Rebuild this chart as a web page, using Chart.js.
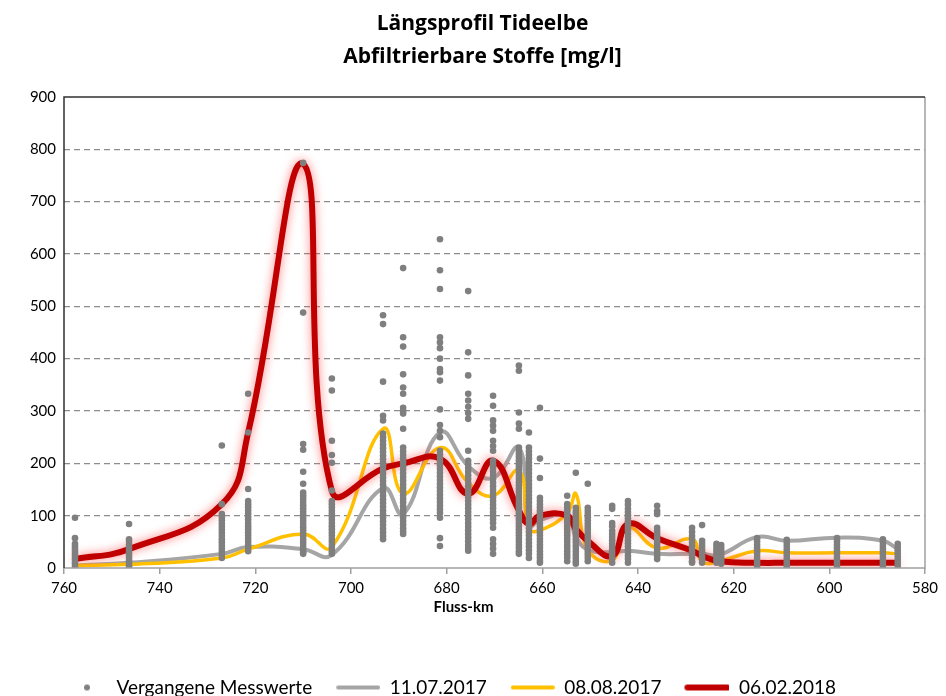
<!DOCTYPE html>
<html>
<head>
<meta charset="utf-8">
<script src="https://cdn.jsdelivr.net/npm/chart.js@4.4.1/dist/chart.umd.min.js"></script>
<style>
  html, body { margin: 0; padding: 0; background: #fff; }
  #wrap { width: 946px; height: 696px; }
</style>
</head>
<body>
<div id="wrap"><canvas id="profileChart" width="946" height="696"></canvas></div>
<script>
// Stations along the river (Fluss-km)
const stationKm = [757.7, 746.4, 727.0, 721.5, 710.0, 704.0, 693.3, 689.1, 681.4, 675.5, 670.3, 664.9, 662.8, 660.5,
  654.8, 653.0, 650.5, 645.4, 642.1, 636.0, 628.7, 626.6, 623.0, 615.1, 608.9, 598.4, 588.8, 585.7];

// Profile values [mg/l] per station
const values20170711 = [5, 10, 27, 40, 36, 25, 153, 103, 259, 195, 172, 230, 80, 92,
  100, 60, 35, 30, 33, 27, 27, 27, 25, 59, 52, 58, 52, 36];
const values20170808 = [5, 7, 19, 36, 65, 40, 266, 142, 230, 163, 138, 186, 75, 72,
  105, 142, 35, 15, 77, 38, 55, 12, 13, 33, 29, 29, 29, 27];
const values20180206 = [17, 36, 122, 259, 772, 147, 190, 200, 209, 142, 205, 110, 84, 100,
  100, 75, 52, 23, 84, 57, 33, 23, 13, 10, 10, 10, 10, 10];

// Past measurements (Vergangene Messwerte), one list per station
const pastKm = [757.7, 746.4, 727.0, 721.5, 710.0, 704.0, 693.3, 689.1, 681.4, 675.5, 670.3, 664.9, 662.8, 660.5,
  654.8, 653.0, 650.5, 645.4, 642.1, 636.0, 628.7, 626.6, 623.6, 622.6, 615.1, 608.9, 598.4, 588.8, 585.7];
const pastValues = [
  [96, 57, 46, 41, 36, 31, 26, 21, 16, 11, 6, 2],
  [84, 55, 50, 45, 40, 35, 30, 25, 20, 15, 10, 5, 2],
  [234, 122, 103, 97, 91, 85, 79, 73, 67, 61, 55, 49, 43, 37, 31, 25, 19],
  [333, 259, 151, 128, 122, 116, 110, 104, 98, 92, 86, 80, 74, 68, 62, 56, 50, 44, 38, 32],
  [774, 488, 237, 226, 184, 161, 144, 138, 132, 126, 120, 114, 108, 102, 96, 90, 84, 78, 72, 66, 60, 54, 48, 42, 36, 30, 27],
  [362, 339, 243, 216, 201, 148, 128, 122, 116, 110, 104, 98, 92, 86, 80, 74, 68, 62, 56, 50, 44, 38, 32, 27],
  [483, 466, 356, 291, 282, 257, 250, 243, 236, 229, 222, 215, 208, 201, 194, 187, 180, 173, 166, 159, 152, 145, 138, 131, 124, 117, 110, 103, 96, 89, 82, 75, 68, 61, 55],
  [573, 441, 423, 370, 345, 333, 306, 300, 295, 266, 230, 223, 216, 209, 202, 195, 188, 181, 174, 167, 160, 153, 146, 139, 132, 125, 118, 111, 104, 97, 90, 83, 76, 70, 65],
  [628, 569, 533, 441, 431, 420, 400, 380, 374, 358, 303, 273, 262, 250, 224, 217, 210, 203, 196, 189, 182, 175, 168, 161, 154, 147, 140, 133, 126, 119, 112, 105, 96, 57, 42],
  [529, 412, 368, 333, 320, 308, 296, 285, 224, 205, 198, 191, 184, 177, 170, 163, 156, 149, 142, 135, 128, 121, 114, 107, 100, 93, 86, 79, 72, 65, 58, 51, 44, 38, 33],
  [329, 310, 282, 272, 262, 243, 233, 224, 205, 198, 191, 184, 177, 170, 163, 156, 149, 142, 135, 128, 121, 114, 107, 100, 93, 86, 77, 55, 46, 37, 27],
  [387, 377, 297, 276, 266, 230, 224, 218, 212, 206, 200, 194, 188, 182, 176, 170, 164, 158, 152, 146, 140, 134, 128, 122, 116, 110, 104, 98, 92, 86, 80, 74, 68, 62, 56, 50, 44, 38, 32, 27],
  [259, 230, 223, 216, 209, 202, 195, 188, 181, 174, 167, 160, 153, 146, 139, 132, 125, 118, 111, 104, 97, 90, 83, 76, 69, 62, 55, 48, 41, 34, 27, 19],
  [306, 209, 172, 134, 128, 122, 116, 110, 104, 98, 92, 86, 80, 74, 68, 62, 56, 50, 44, 38, 32, 26, 20, 14, 10],
  [138, 122, 116, 110, 104, 98, 92, 86, 80, 74, 68, 62, 56, 50, 44, 38, 32, 26, 20, 13],
  [182, 115, 109, 103, 97, 91, 85, 79, 73, 67, 61, 55, 49, 43, 37, 31, 25, 19, 13, 8],
  [161, 115, 109, 103, 97, 91, 85, 79, 73, 67, 61, 55, 49, 43, 37, 31, 25, 19, 13],
  [119, 113, 86, 80, 71, 65, 59, 53, 47, 41, 35, 29, 23, 17, 10],
  [128, 121, 113, 107, 101, 95, 89, 83, 77, 71, 65, 59, 53, 47, 41, 35, 29, 23, 17, 10],
  [119, 109, 103, 77, 71, 65, 59, 53, 47, 41, 35, 29, 23, 17],
  [77, 69, 61, 55, 49, 43, 37, 31, 25, 19, 13, 10],
  [82, 52, 46, 40, 34, 28, 22, 16, 10],
  [46, 40, 34, 28, 22, 16, 10],
  [44, 38, 32, 26, 20, 14, 8],
  [57, 51, 45, 39, 33, 27, 21, 15, 9, 3],
  [54, 48, 42, 36, 30, 24, 18, 12, 6, 1],
  [57, 51, 45, 39, 33, 27, 21, 15, 9, 3],
  [55, 49, 43, 37, 31, 25, 19, 13, 7, 1],
  [46, 40, 34, 28, 22, 16, 10, 4]
];

const seriesLabels = ['Vergangene Messwerte', '11.07.2017', '08.08.2017', '06.02.2018'];
const seriesColors = ['#7f7f7f', '#a5a5a5', '#ffc000', '#c00000'];
const yTicks = [0, 100, 200, 300, 400, 500, 600, 700, 800, 900];

const FONT = 'Lato, "Open Sans", sans-serif';

// build {x, y} lists for the library
function toPoints(kms, vals) {
  return kms.map((km, i) => ({ x: km, y: vals[i] }));
}
const pastPoints = [];
pastKm.forEach((km, i) => {
  pastValues[i].forEach(v => pastPoints.push({ x: km, y: v }));
});

// small canvases used as legend symbols (blank left part = gap to previous item)
function legendIcon(kind, color, lineW) {
  const c = document.createElement('canvas');
  c.width = 66; c.height = 10;
  const g = c.getContext('2d');
  if (kind === 'dot') {
    g.fillStyle = color;
    g.beginPath(); g.arc(46, 5, 3, 0, Math.PI * 2); g.fill();
  } else {
    g.strokeStyle = color;
    g.lineWidth = lineW;
    g.lineCap = 'round';
    g.beginPath(); g.moveTo(24, 5); g.lineTo(64, 5); g.stroke();
  }
  return c;
}
const legendIcons = [
  legendIcon('dot', seriesColors[0]),
  legendIcon('line', seriesColors[1], 4),
  legendIcon('line', seriesColors[2], 4),
  legendIcon('line', seriesColors[3], 6)
];

// red glow for the current profile
const glowPlugin = {
  id: 'glow',
  beforeDatasetDraw(chart, args) {
    if (args.index !== 3) return;
    chart.ctx.save();
    chart.ctx.shadowColor = 'rgba(255, 70, 70, 0.7)';
    chart.ctx.shadowBlur = 10;
  },
  afterDatasetDraw(chart, args) {
    if (args.index !== 3) return;
    chart.ctx.restore();
  }
};

// title sits a bit right of centre, legend a bit left, as in the original sheet
const nudgePlugin = {
  id: 'nudge',
  afterLayout(chart) {
    chart.titleBlock.left += 20; chart.titleBlock.right += 20;
    chart.legend.left -= 24; chart.legend.right -= 24;
  }
};

// frame around the plot area
const framePlugin = {
  id: 'frame',
  afterDraw(chart) {
    const { ctx, chartArea: a } = chart;
    ctx.save();
    ctx.lineWidth = 1.5;
    ctx.strokeStyle = '#a0a0a0';
    ctx.beginPath();
    ctx.moveTo(a.right, a.top); ctx.lineTo(a.right, a.bottom); ctx.lineTo(a.left, a.bottom);
    ctx.stroke();
    ctx.strokeStyle = '#303030';
    ctx.beginPath();
    ctx.moveTo(a.left, a.bottom); ctx.lineTo(a.left, a.top); ctx.lineTo(a.right, a.top);
    ctx.stroke();
    ctx.restore();
  }
};

const profileChart = new Chart('profileChart', {
  type: 'scatter',
  data: {
    datasets: [
      { label: seriesLabels[0], data: pastPoints, backgroundColor: seriesColors[0], borderWidth: 0,
        pointRadius: 3.3, pointHoverRadius: 3.3, showLine: false, order: 0 },
      { label: seriesLabels[1], data: toPoints(stationKm, values20170711), borderColor: seriesColors[1],
        borderWidth: 4, pointRadius: 0, showLine: true, tension: 0.45, order: 3 },
      { label: seriesLabels[2], data: toPoints(stationKm, values20170808), borderColor: seriesColors[2],
        borderWidth: 3.5, pointRadius: 0, showLine: true, tension: 0.45, order: 2 },
      { label: seriesLabels[3], data: toPoints(stationKm, values20180206), borderColor: seriesColors[3],
        borderWidth: 6, pointRadius: 0, showLine: true, tension: 0.45, order: 1 }
    ]
  },
  options: {
    responsive: false,
    animation: false,
    layout: { padding: { left: 0, right: 21, top: 0, bottom: -11 } },
    plugins: {
      title: {
        display: true,
        text: ['Längsprofil Tideelbe', 'Abfiltrierbare Stoffe [mg/l]'],
        color: '#000',
        font: { family: '"Open Sans", Lato, sans-serif', size: 21, weight: 'bold', lineHeight: 1.57 },
        padding: { top: 8, bottom: 23 }
      },
      legend: {
        position: 'bottom',
        labels: {
          usePointStyle: true,
          pointStyleWidth: 66,
          padding: 2,
          color: '#000',
          font: { family: FONT, size: 19 },
          generateLabels: chart => chart.data.datasets.map((ds, i) => ({
            text: ds.label,
            pointStyle: legendIcons[i],
            datasetIndex: i,
            hidden: false,
            fontColor: '#000'
          }))
        }
      },
      tooltip: { enabled: false }
    },
    scales: {
      x: {
        type: 'linear',
        reverse: true,
        min: 580,
        max: 760,
        ticks: { stepSize: 20, color: '#000', padding: 5, font: { family: FONT, size: 15 } },
        grid: { drawOnChartArea: false, color: '#a0a0a0', tickLength: 6, lineWidth: 1.5 },
        border: { display: false },
        // trailing blanks move the centred title a little to the left
        title: { display: true, text: 'Fluss-km' + ' '.repeat(17), color: '#000', padding: { top: 4, bottom: 60 },
          font: { family: FONT, size: 15, weight: 'bold' } },
        afterFit: scale => { scale.height = 108; }
      },
      y: {
        min: 0,
        max: 900,
        afterBuildTicks: scale => { scale.ticks = yTicks.map(v => ({ value: v })); },
        ticks: { color: '#000', padding: 8, font: { family: FONT, size: 15 } },
        grid: {
          color: ctx => (ctx.tick.value === 0 || ctx.tick.value === 900) ? 'transparent' : '#8c8c8c',
          tickLength: 0,
          lineWidth: 1.3
        },
        border: { display: false, dash: [6, 4] },
        afterFit: scale => { scale.width = 64; }
      }
    }
  },
  plugins: [glowPlugin, nudgePlugin, framePlugin]
});
</script>
</body>
</html>
